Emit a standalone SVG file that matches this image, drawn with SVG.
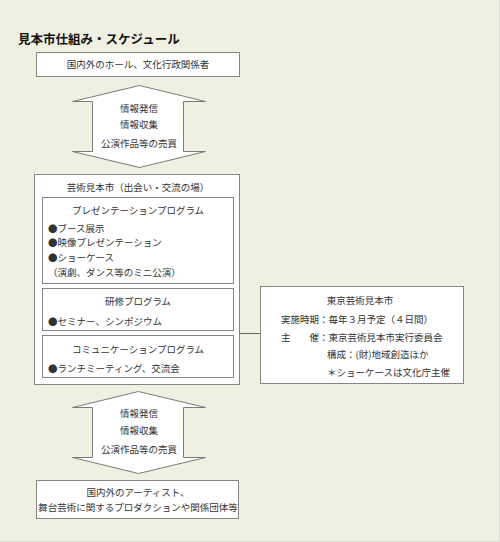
<svg xmlns="http://www.w3.org/2000/svg" width="500" height="542" viewBox="0 0 500 542">
<style>
.box{fill:#fff;stroke:#858585;stroke-width:1}
.arrow{fill:#fff;stroke:#7a7a7a;stroke-width:1}
.t{font-family:"Noto Sans CJK JP","Noto Sans",sans-serif;font-size:9.5px;fill:#333}
.c{text-anchor:middle}
.title{font-family:"Noto Sans CJK JP","Noto Sans",sans-serif;font-size:12.5px;font-weight:bold;fill:#111}
.conn{stroke:#666;stroke-width:1;fill:none}
</style>
<rect x="0" y="0" width="500" height="542" fill="#f0f0e2"/>
<line x1="499.5" y1="0" x2="499.5" y2="542" stroke="#dcdcd2"/>
<line x1="0" y1="541.5" x2="500" y2="541.5" stroke="#dcdcd2"/>
<text class="title" x="18" y="44">見本市仕組み・スケジュール</text>

<g id="connectors">
<line class="conn" x1="240" y1="333.5" x2="260" y2="333.5"/>
</g>

<g id="top-box">
<rect class="box" x="36.5" y="52.5" width="203" height="24"/>
<text class="t c" x="138" y="68">国内外のホール、文化行政関係者</text>
</g>

<g id="arrow-top">
<polygon class="arrow" points="139.5,85.5 205.5,101.5 183.5,101.5 183.5,151.5 205.5,151.5 139.5,167.5 72.5,151.5 92.5,151.5 92.5,101.5 72.5,101.5"/>
<text class="t c" x="139" y="112">情報発信</text>
<text class="t c" x="139" y="128">情報収集</text>
<text class="t c" x="139" y="147">公演作品等の売買</text>
</g>

<g id="main-box">
<rect class="box" x="34.5" y="174.5" width="205" height="210"/>
<text class="t c" x="138" y="191">芸術見本市（出会い・交流の場）</text>
</g>

<g id="presentation">
<rect class="box" x="42.5" y="197.5" width="191" height="86"/>
<text class="t c" x="138" y="214">プレゼンテーションプログラム</text>
<text class="t" x="48" y="232">●ブース展示</text>
<text class="t" x="48" y="246">●映像プレゼンテーション</text>
<text class="t" x="48" y="261">●ショーケース</text>
<text class="t" x="48" y="276">（演劇、ダンス等のミニ公演）</text>
</g>

<g id="kenshu">
<rect class="box" x="42.5" y="288.5" width="191" height="42"/>
<text class="t c" x="138" y="305">研修プログラム</text>
<text class="t" x="48" y="325">●セミナー、シンポジウム</text>
</g>

<g id="communication">
<rect class="box" x="42.5" y="335.5" width="191" height="42"/>
<text class="t c" x="138" y="353">コミュニケーションプログラム</text>
<text class="t" x="48" y="372">●ランチミーティング、交流会</text>
</g>

<g id="info-box">
<rect class="box" x="260.5" y="286.5" width="203" height="97"/>
<text class="t c" x="360" y="304">東京芸術見本市</text>
<text class="t" x="281" y="323">実施時期：毎年３月予定（４日間）</text>
<text class="t" x="281" y="341">主　　催：東京芸術見本市実行委員会</text>
<text class="t" x="327" y="358">構成：(財)地域創造ほか</text>
<text class="t" x="327" y="376">＊ショーケースは文化庁主催</text>
</g>

<g id="arrow-bottom">
<polygon class="arrow" points="138.5,391.5 205.5,407.5 183.5,407.5 183.5,457.5 205.5,457.5 138.5,473.5 72.5,457.5 92.5,457.5 92.5,407.5 72.5,407.5"/>
<text class="t c" x="139" y="417">情報発信</text>
<text class="t c" x="139" y="434">情報収集</text>
<text class="t c" x="139" y="453">公演作品等の売買</text>
</g>

<g id="bottom-box">
<rect class="box" x="36.5" y="480.5" width="202" height="38"/>
<text class="t c" x="138" y="496">国内外のアーティスト、</text>
<text class="t c" x="138" y="511">舞台芸術に関するプロダクションや関係団体等</text>
</g>
</svg>
